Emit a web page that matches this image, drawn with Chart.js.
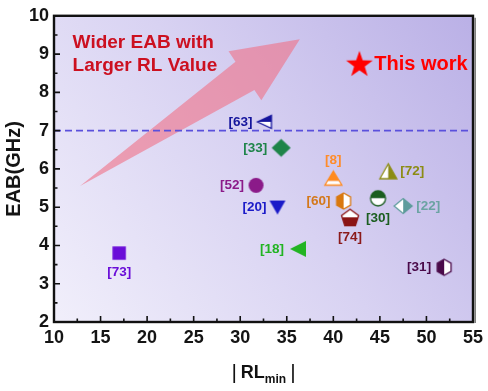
<!DOCTYPE html>
<html><head><meta charset="utf-8">
<script src="https://cdn.jsdelivr.net/npm/chart.js@4/dist/chart.umd.min.js"></script>
<style>html,body{margin:0;padding:0;background:#fff;}canvas{display:block;}</style>
</head><body>
<canvas id="c" width="488" height="391"></canvas>
<script>
// ---------------- data ----------------
const refs       = ['[73]','[63]','[33]','[52]','[20]','[8]','[60]','[30]','[72]','[22]','[74]','[18]','[31]'];
const rlValues   = [17.0, 32.6, 34.4, 31.7, 34.0, 40.0, 41.1, 44.8, 45.9, 47.5, 41.8, 36.2, 51.9];
const eabValues  = [3.80, 7.23, 6.55, 5.57, 4.99, 5.76, 5.16, 5.23, 5.94, 5.03, 4.71, 3.91, 3.43];
const thisWorkRL  = [42.8];
const thisWorkEAB = [8.72];
const thresholdEAB = 7;
const xTickValues = [10,15,20,25,30,35,40,45,50,55];
const yTickValues = [2,3,4,5,6,7,8,9,10];
const xTitle = ['RL','min'];
const yTitle = 'EAB(GHz)';
const arrowFrom = [12.8, 5.55];
const arrowTo   = [36.4, 9.39];

// ---------------- styles ----------------
const FONT = '"Liberation Sans", Arial, sans-serif';
const markerStyles = [
  {shape:'square',  w:6.7,            c1:'#6A0DD8', lab:'#6A0DD8', pos:'below', off:19},
  {shape:'triLeft', w:7, h:6.5, split:'h', at:0, c1:'#14149C', c2:'#FFFFFF', stroke:'#14149C', lab:'#14149C', pos:'left', off:12},
  {shape:'diamond', w:9.5, h:9,       c1:'#1E8449', lab:'#1E8449', pos:'left', off:14},
  {shape:'circle',  w:7.5,            c1:'#8B1A89', lab:'#8B1A89', pos:'left', off:12},
  {shape:'triDown', w:8, h:7,         c1:'#1A1AC8', lab:'#1A1AC8', pos:'left', off:11},
  {shape:'triUp',   w:8.5, h:7, split:'h', at:3, c1:'#FF8A1E', c2:'#FFFFFF', stroke:'#FF8A1E', lab:'#FF8C2A', pos:'above', off:18},
  {shape:'hex',     w:8, split:'v', at:0, c1:'#D9780F', c2:'#FFFFFF', stroke:'#D9780F', lab:'#D4781A', pos:'left', off:13},
  {shape:'circle',  w:7.5, split:'h', at:0, c1:'#1B5E20', c2:'#FFFFFF', stroke:'#1B5E20', lab:'#1B5E20', pos:'below', off:20},
  {shape:'triUp',   w:8.5, h:7.5, split:'v', at:0, c1:'#FFFFFF', c2:'#8C8C14', stroke:'#8C8C14', lab:'#8C8C14', pos:'right', off:12},
  {shape:'diamond', w:9, h:7.5, split:'v', at:0, c1:'#FFFFFF', c2:'#5E9C9C', stroke:'#5E9C9C', lab:'#6BA3A3', pos:'right', off:13},
  {shape:'pent',    w:9, split:'h', at:-1, c1:'#FFFFFF', c2:'#8B1414', stroke:'#8B1414', lab:'#8B1A1A', pos:'below', off:19},
  {shape:'triLeft', w:8, h:8,         c1:'#22B422', lab:'#22B422', pos:'left', off:14},
  {shape:'hex',     w:8, split:'v', at:0, c1:'#4A0A4A', c2:'#FFFFFF', stroke:'#4A0A4A', lab:'#4A0A4A', pos:'left', off:13}
];

function drawPath(g, m, c){
  const w = m.w, h = m.h || m.w;
  g.beginPath();
  switch(m.shape){
    case 'square': g.rect(c-w, c-w, 2*w, 2*w); break;
    case 'circle': g.arc(c, c, w, 0, 2*Math.PI); break;
    case 'diamond': g.moveTo(c, c-h); g.lineTo(c+w, c); g.lineTo(c, c+h); g.lineTo(c-w, c); g.closePath(); break;
    case 'triUp': g.moveTo(c, c-h); g.lineTo(c+w, c+h); g.lineTo(c-w, c+h); g.closePath(); break;
    case 'triDown': g.moveTo(c, c+h); g.lineTo(c+w, c-h); g.lineTo(c-w, c-h); g.closePath(); break;
    case 'triLeft': g.moveTo(c-w, c); g.lineTo(c+w, c-h); g.lineTo(c+w, c+h); g.closePath(); break;
    case 'hex': case 'pent': case 'star': {
      const n = m.shape==='hex' ? 6 : 5;
      const pts = [];
      if (m.shape==='star') {
        for (let i=0;i<10;i++){ const r = i%2 ? w*0.40 : w; const a=-Math.PI/2 + i*Math.PI/5; pts.push([c+r*Math.cos(a), c+r*Math.sin(a)]); }
      } else {
        for (let i=0;i<n;i++){ const a=-Math.PI/2 + i*2*Math.PI/n; pts.push([c+w*Math.cos(a), c+w*Math.sin(a)]); }
      }
      pts.forEach((p,i)=> i? g.lineTo(p[0],p[1]) : g.moveTo(p[0],p[1]));
      g.closePath(); break;
    }
  }
}
function makeMarker(m){
  const S = Math.ceil(2*Math.max(m.w, m.h||0) + 6);
  const c = S/2;
  const cv = document.createElement('canvas'); cv.width = cv.height = S;
  const g = cv.getContext('2d');
  if (m.split) {
    g.save(); drawPath(g,m,c); g.clip();
    g.fillStyle = m.c1;
    if (m.split==='h') { g.fillRect(0,0,S,c+m.at); g.fillStyle=m.c2; g.fillRect(0,c+m.at,S,S); }
    else { g.fillRect(0,0,c+m.at,S); g.fillStyle=m.c2; g.fillRect(c+m.at,0,S,S); }
    g.restore();
  } else { drawPath(g,m,c); g.fillStyle=m.c1; g.fill(); }
  if (m.stroke) { drawPath(g,m,c); g.lineWidth=1.3; g.strokeStyle=m.stroke; g.stroke(); }
  return cv;
}
const markerCanvases = markerStyles.map(makeMarker);
const starCanvas = makeMarker({shape:'star', w:14, c1:'#FF0000'});

// ---------------- plugins ----------------
const bgPlugin = {
  id:'bg',
  beforeDraw(chart){
    const {ctx, chartArea:a} = chart;
    const gr = ctx.createLinearGradient(a.left, a.bottom, a.right, a.top);
    gr.addColorStop(0, '#F1EFFB');
    gr.addColorStop(0.5, '#D8D2F2');
    gr.addColorStop(1, '#BAB0E6');
    ctx.save(); ctx.fillStyle = gr; ctx.fillRect(a.left, a.top, a.right-a.left, a.bottom-a.top); ctx.restore();
  },
  beforeDatasetsDraw(chart){
    const {ctx, scales:{x, y}} = chart;
    const x0 = x.getPixelForValue(arrowFrom[0]), y0 = y.getPixelForValue(arrowFrom[1]);
    const x1 = x.getPixelForValue(arrowTo[0]),   y1 = y.getPixelForValue(arrowTo[1]);
    const L = Math.hypot(x1-x0, y1-y0), dx=(x1-x0)/L, dy=(y1-y0)/L, nx=-dy, ny=dx;
    const headLen = 66, headHalf = 29.5, shaftHalf = 17;
    const bx = x1 - dx*headLen, by = y1 - dy*headLen;
    ctx.save();
    ctx.beginPath();
    ctx.moveTo(x0, y0);
    ctx.lineTo(bx + nx*shaftHalf, by + ny*shaftHalf);
    ctx.lineTo(bx + nx*headHalf, by + ny*headHalf);
    ctx.lineTo(x1, y1);
    ctx.lineTo(bx - nx*headHalf, by - ny*headHalf);
    ctx.lineTo(bx - nx*shaftHalf, by - ny*shaftHalf);
    ctx.closePath();
    ctx.fillStyle = 'rgba(240,112,134,0.6)';
    ctx.fill();
    ctx.restore();
  },
  afterDatasetsDraw(chart){
    const {ctx, scales:{x, y}} = chart;
    const meta = chart.getDatasetMeta(1);
    ctx.save();
    ctx.font = 'bold 13.5px ' + FONT;
    ctx.textBaseline = 'middle';
    meta.data.forEach((el, i) => {
      const s = markerStyles[i];
      ctx.fillStyle = s.lab;
      let tx = el.x, ty = el.y;
      if (s.pos==='left') { ctx.textAlign='right'; tx -= s.off; }
      else if (s.pos==='right') { ctx.textAlign='left'; tx += s.off; }
      else if (s.pos==='below') { ctx.textAlign='center'; ty += s.off; }
      else { ctx.textAlign='center'; ty -= s.off; }
      ctx.fillText(refs[i], tx, ty);
    });
    // annotations
    ctx.fillStyle = '#CC1020';
    ctx.font = 'bold 19px ' + FONT;
    ctx.textAlign = 'left';
    ctx.fillText('Wider EAB with', x.getPixelForValue(12.0), y.getPixelForValue(9.29));
    ctx.fillText('Larger RL Value', x.getPixelForValue(12.0), y.getPixelForValue(8.70));
    ctx.fillStyle = '#FF0000';
    ctx.font = 'bold 20px ' + FONT;
    ctx.fillText('This work', x.getPixelForValue(44.4), y.getPixelForValue(thisWorkEAB[0]));
    ctx.restore();
  },
  afterDraw(chart){
    const {ctx, chartArea:a, scales:{x, y}} = chart;
    ctx.save();
    // shadow
    ctx.strokeStyle = '#777'; ctx.lineWidth = 1.5;
    ctx.beginPath(); ctx.moveTo(a.right+2.2, a.top+2); ctx.lineTo(a.right+2.2, a.bottom+1); ctx.stroke();
    // frame
    ctx.strokeStyle = '#111'; ctx.lineWidth = 2.4;
    ctx.strokeRect(a.left, a.top, a.right-a.left, a.bottom-a.top);
    // ticks (inward)
    ctx.lineWidth = 1.6;
    ctx.beginPath();
    for (let v = xTickValues[0]; v <= xTickValues[xTickValues.length-1] + 1e-9; v += 2.5) {
      const px = x.getPixelForValue(v);
      const major = Math.abs(v/5 - Math.round(v/5)) < 1e-6;
      ctx.moveTo(px, a.bottom); ctx.lineTo(px, a.bottom - (major ? 6 : 3.5));
    }
    for (let v = yTickValues[0]; v <= yTickValues[yTickValues.length-1] + 1e-9; v += 0.5) {
      const py = y.getPixelForValue(v);
      const major = Math.abs(v - Math.round(v)) < 1e-6;
      ctx.moveTo(a.left, py); ctx.lineTo(a.left + (major ? 6 : 3.5), py);
    }
    ctx.stroke();
    // x title |RL_min|
    const cx = (a.left + a.right) / 2;
    ctx.fillStyle = '#111';
    ctx.textBaseline = 'alphabetic';
    ctx.textAlign = 'left';
    const fBar = '21px ' + FONT, fMain = 'bold 18px ' + FONT, fSub = 'bold 12px ' + FONT;
    ctx.font = fBar; const wBar = ctx.measureText('|').width;
    ctx.font = fMain; const wMain = ctx.measureText(xTitle[0]).width;
    ctx.font = fSub; const wSub = ctx.measureText(xTitle[1]).width;
    const gap = 4;
    const total = wBar + gap + wMain + wSub + gap + wBar;
    let px = cx - total/2;
    const base = 377.5;
    ctx.font = fBar; ctx.fillText('|', px, base + 1); px += wBar + gap;
    ctx.font = fMain; ctx.fillText(xTitle[0], px, base); px += wMain;
    ctx.font = fSub; ctx.fillText(xTitle[1], px, base + 5.5); px += wSub + gap;
    ctx.font = fBar; ctx.fillText('|', px, base + 1);
    ctx.restore();
  }
};

// ---------------- chart ----------------
new Chart(document.getElementById('c'), {
  type: 'scatter',
  data: {
    datasets: [
      { type:'line', data: [{x:xTickValues[0], y:thresholdEAB}, {x:xTickValues[xTickValues.length-1], y:thresholdEAB}],
        borderColor:'#5A50DC', borderWidth:1.8, borderDash:[7,4], pointRadius:0, fill:false },
      { data: rlValues.map((v,i)=>({x:v, y:eabValues[i]})),
        pointStyle: ctx => markerCanvases[ctx.dataIndex], pointRadius: 8 },
      { data: thisWorkRL.map((v,i)=>({x:v, y:thisWorkEAB[i]})), pointStyle: starCanvas, pointRadius: 14 }
    ]
  },
  options: {
    responsive:false, animation:false, devicePixelRatio:1,
    layout:{ padding:{ top:13, right:14, left:0, bottom:0 } },
    plugins:{ legend:{display:false}, tooltip:{enabled:false} },
    scales:{
      x:{ type:'linear', min:xTickValues[0], max:xTickValues[xTickValues.length-1],
          afterBuildTicks: s => { s.ticks = xTickValues.map(v=>({value:v})); },
          ticks:{ font:{family:FONT, size:18, weight:'bold'}, color:'#141414', padding:5, maxRotation:0, autoSkip:false },
          grid:{ display:false, drawTicks:false }, border:{display:false},
          afterFit: s => { s.height = 69; } },
      y:{ type:'linear', min:yTickValues[0], max:yTickValues[yTickValues.length-1],
          afterBuildTicks: s => { s.ticks = yTickValues.map(v=>({value:v})); },
          ticks:{ font:{family:FONT, size:18, weight:'bold'}, color:'#141414', padding:5, autoSkip:false },
          grid:{ display:false, drawTicks:false }, border:{display:false},
          title:{ display:true, text:yTitle, font:{family:FONT, size:20, weight:'bold'}, color:'#141414', padding:{top:2, bottom:0} },
          afterFit: s => { s.width = 54; } }
    }
  },
  plugins:[bgPlugin]
});
</script>
</body></html>
